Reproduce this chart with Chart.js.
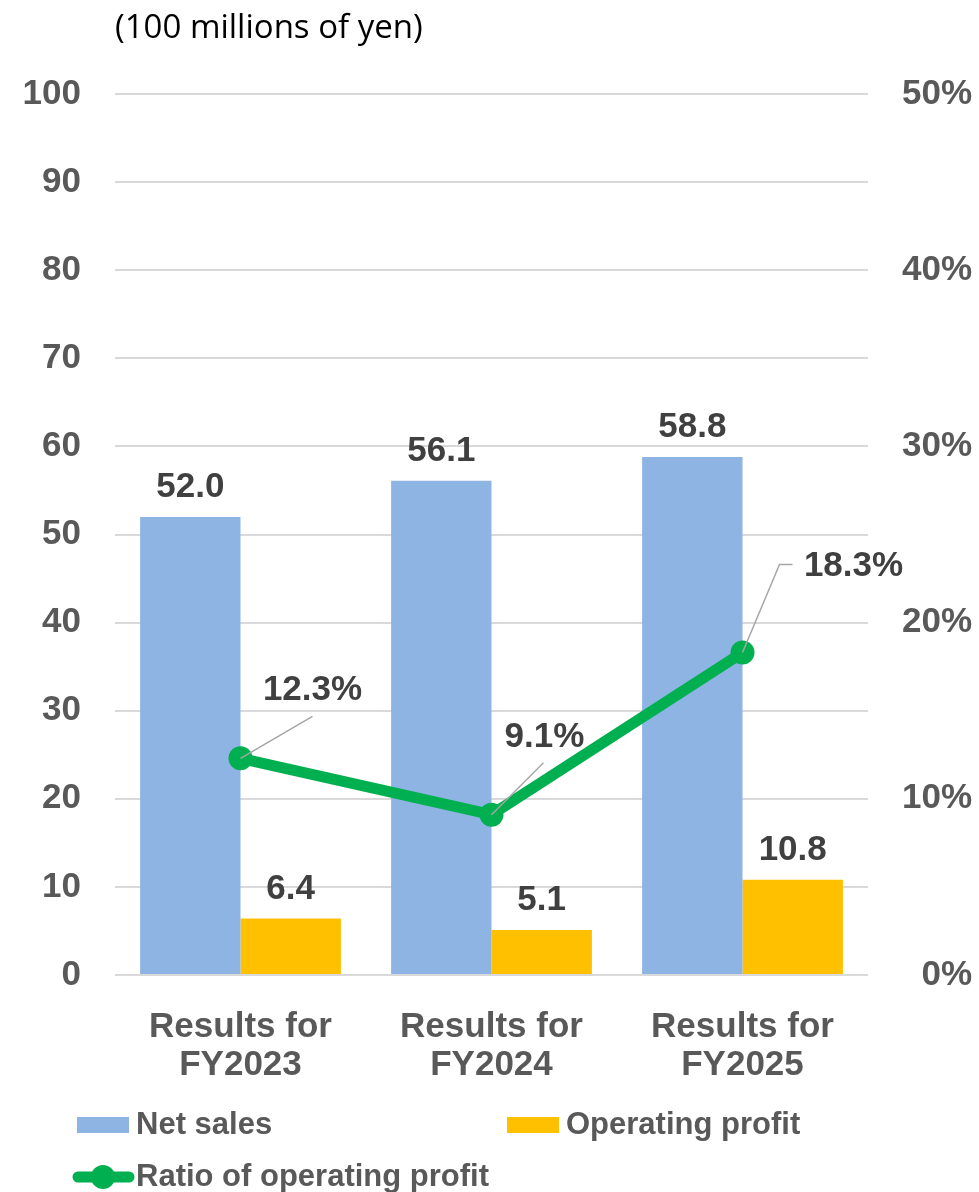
<!DOCTYPE html>
<html>
<head>
<meta charset="utf-8">
<script src="https://cdn.jsdelivr.net/npm/chart.js@4/dist/chart.umd.min.js"></script>
<style>
  html, body { margin: 0; padding: 0; background: #ffffff; }
  canvas { display: block; }
</style>
</head>
<body>
<canvas id="chart" width="979" height="1192"></canvas>
<script>
// Results by fiscal year (amounts in 100 millions of yen)
const categories = [['Results for', 'FY2023'], ['Results for', 'FY2024'], ['Results for', 'FY2025']];
const netSales = [52.0, 56.1, 58.8];
const operatingProfit = [6.4, 5.1, 10.8];
const profitRatio = [12.3, 9.1, 18.3];
const leftTicks = { min: 0, max: 100, step: 10 };
const rightTicks = { min: 0, max: 50, step: 10 };
const unitLabel = '(100 millions of yen)';
const seriesNames = ['Net sales', 'Operating profit', 'Ratio of operating profit'];

const BLUE = '#8EB4E3';
const ORANGE = '#FFC000';
const GREEN = '#00B050';
const TICK_GRAY = '#595959';
const LABEL_DARK = '#404040';
const GRID = '#D9D9D9';
const FONT = '"Liberation Sans", Arial, sans-serif';

// Value labels above the bars and callout labels for the ratio line
const valueLabels = {
  id: 'valueLabels',
  afterDatasetsDraw(chart) {
    const ctx = chart.ctx;
    ctx.save();
    ctx.fillStyle = LABEL_DARK;
    ctx.font = 'bold 35px ' + FONT;
    ctx.textAlign = 'center';
    ctx.textBaseline = 'alphabetic';
    [0, 1].forEach(di => {
      const meta = chart.getDatasetMeta(di);
      meta.data.forEach((bar, i) => {
        const v = chart.data.datasets[di].data[i];
        ctx.fillText(v.toFixed(1), bar.x, bar.y - 20);
      });
    });

    // ratio callouts: label centre offset and leader line end, relative to the point
    const callouts = [
      { dx: 72, dy: -68, lead: [[72, -42]] },
      { dx: 53, dy: -77, lead: [[52, -52]] },
      { dx: 111, dy: -86, lead: [[37, -88], [50, -88]] }
    ];
    const meta = chart.getDatasetMeta(2);
    meta.data.forEach((pt, i) => {
      const c = callouts[i];
      ctx.strokeStyle = '#A6A6A6';
      ctx.lineWidth = 1.5;
      ctx.beginPath();
      ctx.moveTo(pt.x, pt.y);
      c.lead.forEach(p => ctx.lineTo(pt.x + p[0], pt.y + p[1]));
      ctx.stroke();
      ctx.fillStyle = LABEL_DARK;
      ctx.textBaseline = 'middle';
      ctx.fillText(chart.data.datasets[2].data[i].toFixed(1) + '%', pt.x + c.dx, pt.y + c.dy);
    });
    ctx.restore();
  }
};

// Unit caption above the value axis
const unitCaption = {
  id: 'unitCaption',
  afterDraw(chart) {
    const ctx = chart.ctx;
    ctx.save();
    ctx.fillStyle = '#000000';
    ctx.font = '33px "Open Sans", "Noto Sans", sans-serif';
    ctx.textAlign = 'left';
    ctx.textBaseline = 'middle';
    ctx.fillText(unitLabel, 115, 29);
    ctx.restore();
  }
};

// Legend laid out under the category labels
const bottomLegend = {
  id: 'bottomLegend',
  afterDraw(chart) {
    const ctx = chart.ctx;
    const ds = chart.data.datasets;
    ctx.save();
    ctx.font = 'bold 31px ' + FONT;
    ctx.fillStyle = TICK_GRAY;
    ctx.textAlign = 'left';
    ctx.textBaseline = 'middle';

    // bar swatches
    ctx.fillStyle = ds[0].backgroundColor;
    ctx.fillRect(77, 1117, 52, 16);
    ctx.fillStyle = ds[1].backgroundColor;
    ctx.fillRect(507, 1117, 52, 16);
    ctx.fillStyle = TICK_GRAY;
    ctx.fillText(ds[0].label, 136, 1125);
    ctx.fillText(ds[1].label, 566, 1125);

    // line swatch with marker
    ctx.strokeStyle = ds[2].borderColor;
    ctx.lineWidth = 11;
    ctx.lineCap = 'round';
    ctx.beginPath();
    ctx.moveTo(78, 1177);
    ctx.lineTo(129, 1177);
    ctx.stroke();
    ctx.fillStyle = ds[2].borderColor;
    ctx.beginPath();
    ctx.arc(103, 1177, 12, 0, Math.PI * 2);
    ctx.fill();
    ctx.fillStyle = TICK_GRAY;
    ctx.fillText(ds[2].label, 136, 1177);
    ctx.restore();
  }
};

new Chart(document.getElementById('chart'), {
  data: {
    labels: categories,
    datasets: [
      {
        type: 'bar',
        label: seriesNames[0],
        data: netSales,
        backgroundColor: BLUE,
        yAxisID: 'y',
        order: 1,
        categoryPercentage: 0.8,
        barPercentage: 1.0
      },
      {
        type: 'bar',
        label: seriesNames[1],
        data: operatingProfit,
        backgroundColor: ORANGE,
        yAxisID: 'y',
        order: 1,
        categoryPercentage: 0.8,
        barPercentage: 1.0
      },
      {
        type: 'line',
        label: seriesNames[2],
        data: profitRatio,
        borderColor: GREEN,
        backgroundColor: GREEN,
        borderWidth: 11,
        pointRadius: 12,
        pointHoverRadius: 12,
        pointBackgroundColor: GREEN,
        pointBorderWidth: 0,
        tension: 0,
        yAxisID: 'y1',
        order: 0
      }
    ]
  },
  options: {
    responsive: false,
    animation: false,
    events: [],
    layout: { padding: { top: 94, left: 0, right: 7, bottom: 0 } },
    plugins: {
      legend: { display: false },
      tooltip: { enabled: false },
      title: { display: false }
    },
    scales: {
      x: {
        grid: { display: false },
        border: { display: false },
        ticks: {
          color: TICK_GRAY,
          font: { family: FONT, size: 35, weight: 'bold', lineHeight: 1.07 },
          padding: 26,
          maxRotation: 0,
          autoSkip: false
        },
        afterFit(scale) { scale.height = 217; }
      },
      y: {
        position: 'left',
        min: leftTicks.min,
        max: leftTicks.max,
        grid: { color: GRID, lineWidth: 2, drawTicks: false },
        border: { display: false },
        ticks: {
          stepSize: leftTicks.step,
          color: TICK_GRAY,
          font: { family: FONT, size: 35, weight: 'bold' },
          padding: 34
        },
        afterFit(scale) { scale.width = 115; }
      },
      y1: {
        position: 'right',
        min: rightTicks.min,
        max: rightTicks.max,
        grid: { display: false, drawTicks: false },
        border: { display: false },
        ticks: {
          stepSize: rightTicks.step,
          color: TICK_GRAY,
          font: { family: FONT, size: 35, weight: 'bold' },
          crossAlign: 'far',
          padding: 0,
          callback: v => v + '%'
        },
        afterFit(scale) { scale.width = 104; }
      }
    }
  },
  plugins: [valueLabels, unitCaption, bottomLegend]
});
</script>
</body>
</html>
